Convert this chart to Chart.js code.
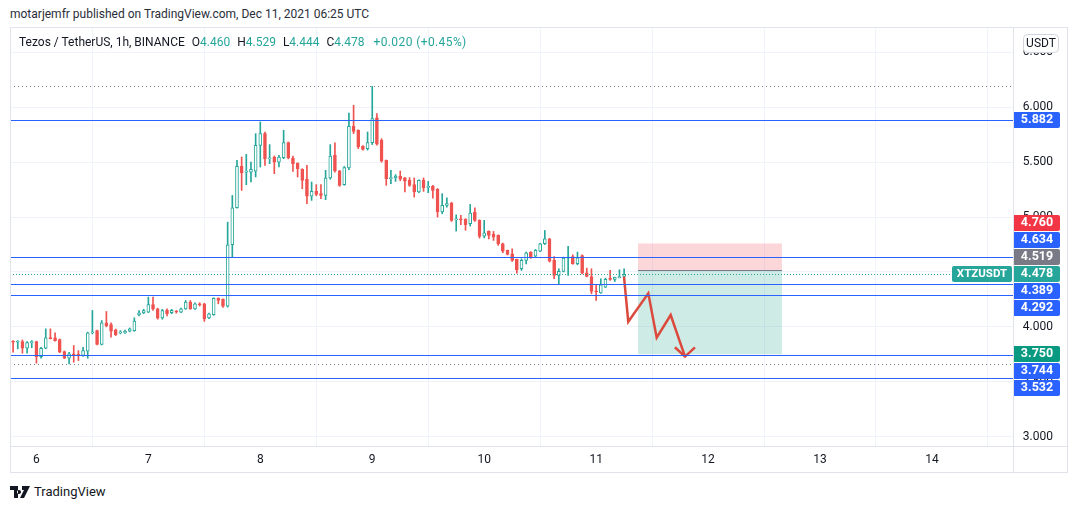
<!DOCTYPE html>
<html>
<head>
<meta charset="utf-8">
<script src="https://cdn.jsdelivr.net/npm/chart.js@4.4.0/dist/chart.umd.min.js"></script>
<style>
  body { margin: 0; background: #fff; width: 1079px; height: 509px; overflow: hidden; font-family: Roboto, 'Noto Sans', sans-serif; color: #131722; }
  #pub { position: absolute; left: 10px; top: 7px; font-size: 12px; color: #2a2e39; white-space: nowrap; }
  #wrap { position: absolute; left: 10px; top: 27px; width: 1058px; height: 446px; }
  #legend { position: absolute; left: 19px; top: 35px; font-size: 12px; white-space: nowrap; }
  #legend .v { color: #26a69a; }
  #legend .k { margin-left: 7px; }
  #legend .first { margin-left: 4px; }
  #legend .chg { margin-left: 9px; letter-spacing: 0.4px; }
  #logo { position: absolute; left: 10px; top: 484px; font-size: 13px; color: #131722; display: flex; align-items: center; }
  #logo svg { margin-right: 4px; }
</style>
</head>
<body>
<div id="pub">motarjemfr published on TradingView.com, Dec 11, 2021 06:25 UTC</div>
<div id="wrap"><canvas id="chart" width="1058" height="446"></canvas></div>
<div id="legend">Tezos / TetherUS, 1h, BINANCE <span class="k first">O</span><span class="v">4.460</span><span class="k">H</span><span class="v">4.529</span><span class="k">L</span><span class="v">4.444</span><span class="k">C</span><span class="v">4.478</span><span class="v chg">+0.020 (+0.45%)</span></div>
<div id="logo"><svg width="20" height="12" viewBox="0 0 20 12"><path d="M0 0h8v12H4V4H0z M9 4a2 2 0 1 0 0.01 0z M12 0h8l-6 12h-4l4-8h-2z" fill="#131722"/></svg>TradingView</div>

<script>
// hourly candles, first one Dec 5 19:00 UTC
const firstCandle = 5 + 19 / 24;

const openP = [
  3.866, 3.860, 3.866, 3.805, 3.857, 3.866, 3.729, 3.805, 3.900, 3.900,
  3.884, 3.775, 3.714, 3.750, 3.748, 3.739, 3.778, 3.945, 3.966, 3.839,
  4.036, 4.021, 3.972, 3.945, 3.945, 3.960, 3.966, 4.109, 4.128, 4.134,
  4.204, 4.164, 4.082, 4.150, 4.130, 4.143, 4.134, 4.164, 4.225, 4.164,
  4.210, 4.210, 4.082, 4.112, 4.261, 4.250, 4.188, 4.748, 5.085, 5.462,
  5.410, 5.410, 5.419, 5.653, 5.760, 5.530, 5.547, 5.501, 5.541, 5.678,
  5.538, 5.490, 5.435, 5.343, 5.191, 5.234, 5.213, 5.198, 5.356, 5.562,
  5.420, 5.295, 5.447, 5.827, 5.790, 5.644, 5.623, 5.678, 5.903, 5.699,
  5.517, 5.350, 5.356, 5.371, 5.358, 5.334, 5.295, 5.228, 5.334, 5.270,
  5.280, 5.252, 5.046, 5.106, 5.128, 4.975, 4.980, 4.980, 4.940, 5.046,
  4.970, 4.827, 4.869, 4.842, 4.833, 4.757, 4.696, 4.666, 4.614, 4.529,
  4.605, 4.681, 4.644, 4.690, 4.757, 4.802, 4.605, 4.468, 4.505, 4.626,
  4.641, 4.575, 4.650, 4.492, 4.459, 4.325, 4.310, 4.362, 4.437, 4.432,
  4.448, 4.460
];
const highP = [
  3.875, 3.875, 3.881, 3.866, 3.875, 3.870, 3.814, 3.982, 3.982, 3.945,
  3.890, 3.780, 3.769, 3.830, 3.784, 3.814, 3.951, 4.149, 3.970, 4.058,
  4.140, 4.036, 3.980, 3.966, 3.970, 3.990, 4.082, 4.149, 4.160, 4.271,
  4.271, 4.170, 4.160, 4.165, 4.160, 4.150, 4.170, 4.240, 4.240, 4.220,
  4.220, 4.215, 4.125, 4.265, 4.265, 4.255, 4.954, 5.197, 5.517, 5.547,
  5.571, 5.501, 5.760, 5.866, 5.775, 5.660, 5.556, 5.562, 5.790, 5.684,
  5.556, 5.495, 5.440, 5.471, 5.319, 5.295, 5.295, 5.426, 5.660, 5.675,
  5.425, 5.460, 5.948, 6.018, 5.795, 5.650, 5.775, 6.191, 5.942, 5.714,
  5.520, 5.426, 5.386, 5.420, 5.362, 5.359, 5.356, 5.340, 5.356, 5.325,
  5.290, 5.260, 5.213, 5.176, 5.135, 5.020, 5.015, 4.985, 5.115, 5.085,
  4.975, 4.970, 4.875, 4.869, 4.838, 4.762, 4.700, 4.711, 4.618, 4.620,
  4.680, 4.685, 4.705, 4.760, 4.878, 4.806, 4.641, 4.529, 4.635, 4.733,
  4.656, 4.681, 4.656, 4.535, 4.529, 4.386, 4.438, 4.444, 4.514, 4.453,
  4.520, 4.529
];
const lowP = [
  3.769, 3.800, 3.760, 3.760, 3.810, 3.669, 3.714, 3.800, 3.890, 3.870,
  3.765, 3.710, 3.662, 3.678, 3.693, 3.730, 3.714, 3.936, 3.835, 3.835,
  4.000, 3.906, 3.921, 3.936, 3.940, 3.955, 3.960, 4.100, 4.120, 4.130,
  4.149, 4.070, 4.070, 4.100, 4.120, 4.125, 4.130, 4.160, 4.160, 4.160,
  4.190, 4.050, 4.075, 4.105, 4.210, 4.178, 4.180, 4.634, 5.080, 5.243,
  5.295, 5.319, 5.365, 5.456, 5.471, 5.486, 5.395, 5.456, 5.532, 5.530,
  5.416, 5.365, 5.258, 5.122, 5.152, 5.195, 5.167, 5.158, 5.344, 5.410,
  5.280, 5.290, 5.432, 5.760, 5.623, 5.610, 5.610, 5.660, 5.655, 5.500,
  5.289, 5.304, 5.325, 5.330, 5.228, 5.280, 5.182, 5.222, 5.234, 5.222,
  5.173, 5.000, 5.030, 5.090, 4.960, 4.872, 4.930, 4.880, 4.918, 4.960,
  4.808, 4.811, 4.802, 4.787, 4.742, 4.675, 4.655, 4.596, 4.490, 4.514,
  4.574, 4.625, 4.640, 4.685, 4.750, 4.590, 4.438, 4.386, 4.500, 4.468,
  4.570, 4.565, 4.483, 4.455, 4.301, 4.240, 4.305, 4.358, 4.422, 4.413,
  4.445, 4.444
];
const closeP = [
  3.860, 3.866, 3.805, 3.857, 3.866, 3.729, 3.805, 3.900, 3.893, 3.875,
  3.769, 3.714, 3.754, 3.745, 3.742, 3.784, 3.945, 3.951, 3.839, 4.036,
  4.012, 3.960, 3.930, 3.955, 3.960, 3.982, 4.052, 4.128, 4.149, 4.204,
  4.164, 4.079, 4.149, 4.120, 4.150, 4.135, 4.164, 4.225, 4.164, 4.210,
  4.200, 4.073, 4.118, 4.261, 4.240, 4.188, 4.748, 5.085, 5.462, 5.401,
  5.416, 5.434, 5.653, 5.760, 5.532, 5.538, 5.501, 5.547, 5.678, 5.541,
  5.486, 5.440, 5.334, 5.191, 5.234, 5.207, 5.198, 5.356, 5.556, 5.420,
  5.289, 5.450, 5.827, 5.781, 5.638, 5.617, 5.678, 5.897, 5.663, 5.508,
  5.350, 5.356, 5.374, 5.344, 5.328, 5.289, 5.228, 5.334, 5.267, 5.276,
  5.243, 5.046, 5.106, 5.122, 4.970, 4.980, 4.975, 4.930, 5.036, 4.970,
  4.824, 4.857, 4.833, 4.818, 4.757, 4.690, 4.660, 4.605, 4.520, 4.605,
  4.675, 4.629, 4.696, 4.757, 4.802, 4.599, 4.468, 4.505, 4.626, 4.630,
  4.575, 4.629, 4.489, 4.459, 4.322, 4.320, 4.383, 4.432, 4.432, 4.453,
  4.452, 4.478
];

const dayTicks = [6, 7, 8, 9, 10, 11, 12, 13, 14];
const priceTicks = [3, 3.5, 4, 4.5, 5, 5.5, 6, 6.5];

// drawn horizontal lines
const blueLevels = [5.882, 4.634, 4.389, 4.292, 3.744, 3.532];
const dottedLevels = [6.191, 3.665];
const lastPrice = 4.478;

// short position tool
const posStop = 4.760;
const posEntry = 4.519;
const posTarget = 3.750;
const posStart = 11.374;
const posEnd = 12.66;

// hand drawn zigzag arrow
const arrowX = [11.249, 11.287, 11.466, 11.541, 11.666, 11.794];
const arrowY = [4.457, 4.047, 4.306, 3.902, 4.108, 3.729];
const headX = [11.704, 11.794, 11.883];
const headY = [3.814, 3.729, 3.814];

const UP = '#26a69a';
const DOWN = '#ef5350';
const BLUE = '#2962ff';

const times = openP.map((_, i) => firstCandle + i / 24);
const isUp = openP.map((o, i) => closeP[i] >= o);

const overlay = {
  id: 'overlay',
  beforeDatasetsDraw(chart) {
    const { ctx, scales: { x, y } } = chart;
    const x0 = x.getPixelForValue(posStart), x1 = x.getPixelForValue(posEnd);
    ctx.save();
    ctx.fillStyle = 'rgba(242,54,69,0.2)';
    ctx.fillRect(x0, y.getPixelForValue(posStop), x1 - x0, y.getPixelForValue(posEntry) - y.getPixelForValue(posStop));
    ctx.fillStyle = 'rgba(8,153,129,0.2)';
    ctx.fillRect(x0, y.getPixelForValue(posEntry), x1 - x0, y.getPixelForValue(posTarget) - y.getPixelForValue(posEntry));
    ctx.strokeStyle = '#787b86';
    ctx.lineWidth = 1;
    const ye = Math.round(y.getPixelForValue(posEntry)) + 0.5;
    ctx.beginPath(); ctx.moveTo(x0, ye); ctx.lineTo(x1, ye); ctx.stroke();
    ctx.restore();
  },
  afterDatasetsDraw(chart) {
    const { ctx, chartArea: a, scales: { y } } = chart;
    ctx.save();
    ctx.lineWidth = 1.2;
    ctx.strokeStyle = BLUE;
    blueLevels.forEach(v => {
      const py = Math.round(y.getPixelForValue(v)) + 0.5;
      ctx.beginPath(); ctx.moveTo(a.left, py); ctx.lineTo(a.right, py); ctx.stroke();
    });
    ctx.lineWidth = 1;
    ctx.setLineDash([1, 3]);
    ctx.strokeStyle = '#787b86';
    dottedLevels.forEach(v => {
      const py = Math.round(y.getPixelForValue(v)) + 0.5;
      ctx.beginPath(); ctx.moveTo(a.left, py); ctx.lineTo(a.right, py); ctx.stroke();
    });
    ctx.setLineDash([1, 2]);
    ctx.strokeStyle = UP;
    const pl = Math.round(y.getPixelForValue(lastPrice)) + 0.5;
    ctx.beginPath(); ctx.moveTo(a.left, pl); ctx.lineTo(a.right - 62, pl); ctx.stroke();
    ctx.restore();
  },
  afterDraw(chart) {
    const { ctx, chartArea: a, scales: { y } } = chart;
    const W = chart.width, H = chart.height;
    ctx.save();
    // frame
    ctx.strokeStyle = '#e0e3eb';
    ctx.lineWidth = 1;
    ctx.strokeRect(0.5, 0.5, W - 1, H - 1);
    ctx.beginPath();
    ctx.moveTo(a.right + 0.5, 0); ctx.lineTo(a.right + 0.5, H);
    ctx.moveTo(0, a.bottom + 0.5); ctx.lineTo(W, a.bottom + 0.5);
    ctx.stroke();

    // price scale labels
    ctx.font = '12px Roboto, sans-serif';
    ctx.fillStyle = '#131722';
    ctx.textAlign = 'right';
    ctx.textBaseline = 'middle';
    priceTicks.forEach(v => ctx.fillText(v.toFixed(3), a.right + 40, Math.round(y.getPixelForValue(v))));

    // price badges on the right axis
    const badges = [
      { v: 5.882, c: BLUE }, { v: posStop, c: '#f23645' }, { v: 4.634, c: BLUE },
      { v: posEntry, c: '#787b86' }, { v: lastPrice, c: UP, anchor: true },
      { v: 4.389, c: BLUE }, { v: 4.292, c: BLUE }, { v: posTarget, c: '#089981' },
      { v: 3.744, c: BLUE }, { v: 3.532, c: BLUE }
    ].sort((p, q) => q.v - p.v);
    const h = 17;
    const ai = badges.findIndex(b => b.anchor);
    badges.forEach(b => { b.py = y.getPixelForValue(b.v); });
    for (let i = ai - 1; i >= 0; i--) badges[i].py = Math.min(badges[i].py, badges[i + 1].py - h);
    for (let i = ai + 1; i < badges.length; i++) badges[i].py = Math.max(badges[i].py, badges[i - 1].py + h);
    ctx.font = 'bold 12.5px Roboto, sans-serif';
    ctx.textAlign = 'center';
    badges.forEach(b => {
      ctx.fillStyle = b.c;
      ctx.beginPath();
      ctx.roundRect(a.right + 1, Math.round(b.py - h / 2), 46, h - 1, [0, 2, 2, 0]);
      ctx.fill();
      ctx.fillStyle = '#fff';
      ctx.fillText(b.v.toFixed(3), a.right + 24, Math.round(b.py));
    });

    // symbol tag at the last price
    const lp = Math.round(y.getPixelForValue(lastPrice));
    ctx.fillStyle = UP;
    ctx.beginPath();
    ctx.roundRect(a.right - 61, lp - 8, 60, 16, 2);
    ctx.fill();
    ctx.fillStyle = '#fff';
    ctx.font = 'bold 11.5px Roboto, sans-serif';
    ctx.fillText('XTZUSDT', a.right - 31, lp);

    // currency box
    ctx.fillStyle = '#fff';
    ctx.strokeStyle = '#d1d4dc';
    ctx.beginPath();
    ctx.roundRect(a.right + 10.5, 7.5, 35, 18, 4);
    ctx.fill(); ctx.stroke();
    ctx.fillStyle = '#131722';
    ctx.font = '12px Roboto, sans-serif';
    ctx.fillText('USDT', a.right + 28, 17);
    ctx.restore();
  }
};

new Chart(document.getElementById('chart'), {
  type: 'bar',
  data: {
    datasets: [
      {
        type: 'line',
        data: arrowX.map((v, i) => ({ x: v, y: arrowY[i] })),
        borderColor: '#dc4a3d',
        borderWidth: 2.5,
        pointRadius: 0,
        tension: 0,
        order: 0
      },
      {
        type: 'line',
        data: headX.map((v, i) => ({ x: v, y: headY[i] })),
        borderColor: '#dc4a3d',
        borderWidth: 2.5,
        pointRadius: 0,
        tension: 0,
        order: 0
      },
      {
        label: 'body',
        data: times.map((t, i) => ({ x: t, y: [openP[i], closeP[i]] })),
        backgroundColor: isUp.map(u => u ? '#ffffff' : DOWN),
        borderColor: isUp.map(u => u ? UP : DOWN),
        borderWidth: 1,
        borderSkipped: false,
        barThickness: 3,
        minBarLength: 1,
        grouped: false,
        order: 1
      },
      {
        label: 'wick',
        data: times.map((t, i) => ({ x: t, y: [lowP[i], highP[i]] })),
        backgroundColor: isUp.map(u => u ? UP : DOWN),
        borderWidth: 0,
        barThickness: 1,
        grouped: false,
        order: 2
      }
    ]
  },
  options: {
    responsive: false,
    animation: false,
    devicePixelRatio: 1,
    layout: { padding: 0 },
    plugins: { legend: { display: false }, tooltip: { enabled: false } },
    scales: {
      x: {
        type: 'linear',
        min: 5.764,
        max: 14.724,
        offset: false,
        afterBuildTicks: s => { s.ticks = dayTicks.map(v => ({ value: v })); },
        afterFit: s => { s.height = 27; },
        grid: { color: '#f0f3fa', drawTicks: false },
        border: { display: false },
        ticks: { color: '#131722', font: { family: 'Roboto', size: 12 }, padding: 7, maxRotation: 0, autoSkip: false, callback: v => String(v) }
      },
      y: {
        position: 'right',
        min: 2.915,
        max: 6.731,
        afterBuildTicks: s => { s.ticks = priceTicks.map(v => ({ value: v })); },
        afterFit: s => { s.width = 55; },
        grid: { color: '#f0f3fa', drawTicks: false },
        border: { display: false },
        ticks: { display: false }
      }
    }
  },
  plugins: [overlay]
});
</script>
</body>
</html>
